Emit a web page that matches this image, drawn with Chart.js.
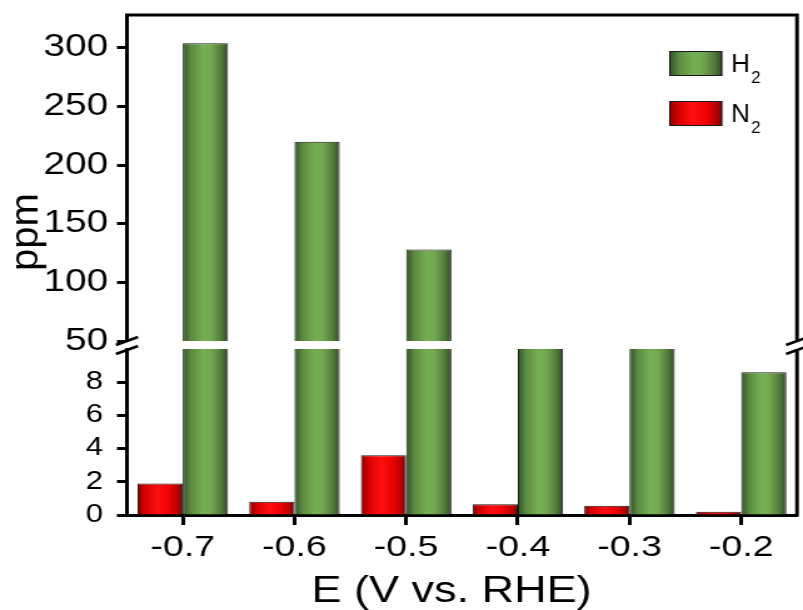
<!DOCTYPE html>
<html>
<head>
<meta charset="utf-8">
<script src="https://cdn.jsdelivr.net/npm/chart.js@4.4.1/dist/chart.umd.min.js"></script>
<style>
  html, body { margin: 0; padding: 0; background: #fff; overflow: hidden; }
  /* the figure uses wide lettering: the chart is drawn narrower and widened */
  #wrap { width: 642px; height: 610px; transform: scaleX(1.2508); transform-origin: 0 0; }
</style>
</head>
<body>
<div id="wrap"><canvas id="c"></canvas></div>
<script>
// Applied potential (V vs. RHE) and measured gas concentrations (ppm)
const potentials = ['-0.7', '-0.6', '-0.5', '-0.4', '-0.3', '-0.2'];
const n2Ppm = [1.9, 0.8, 3.6, 0.65, 0.55, 0.2];
const h2Ppm = [304, 220, 128, 10, 10, 8.6];
const seriesLabels = ['N2', 'H2'];

// Broken y axis: lower panel 0-10, upper panel 50-328
const lowerTicks = [0, 2, 4, 6, 8];
const upperTicks = [50, 100, 150, 200, 250, 300];
const LOWER_MAX = 10;
const UPPER_MIN = 50;
const UPPER_MAX = 328;

const xTitle = 'E (V vs. RHE)';
const yTitle = 'ppm';

const STRETCH = 803 / 642;
const FONT = '"Liberation Sans", Arial, Helvetica, sans-serif';
const CAT_PCT = 0.81;

const palettes = {
  N2: [[0, '#8a0000'], [0.18, '#d80000'], [0.45, '#ff1010'], [0.7, '#f00000'], [0.9, '#b00000'], [1, '#7a0000']],
  H2: [[0, '#34502a'], [0.18, '#5c8a42'], [0.45, '#75ae53'], [0.62, '#72aa50'], [0.85, '#527a3a'], [1, '#2f4825']]
};

function makeGradient(ctx, x0, x1, stops) {
  const g = ctx.createLinearGradient(x0, 0, x1, 0);
  stops.forEach(([o, c]) => g.addColorStop(o, c));
  return g;
}

// Horizontal shading across each bar, positioned from the category scale
function barFill(context) {
  const chart = context.chart;
  const ds = chart.data.datasets[context.datasetIndex];
  const stops = palettes[ds.stack];
  const xs = chart.scales.x;
  if (!xs || context.dataIndex === undefined || !isFinite(xs.left)) return stops[2][1];
  const catW = (xs.right - xs.left) / potentials.length;
  const chunk = catW * CAT_PCT / seriesLabels.length;
  const center = xs.getPixelForValue(context.dataIndex);
  const slot = seriesLabels.indexOf(ds.stack);
  const x0 = center - chunk * seriesLabels.length / 2 + chunk * slot;
  return makeGradient(chart.ctx, x0, x0 + chunk, stops);
}

function lowerPart(values) { return values.map(v => Math.min(v, LOWER_MAX)); }
function upperPart(values) { return values.map(v => (v >= UPPER_MIN ? v : null)); }

function lowerBorder(context) {
  const ds = context.chart.data.datasets[context.datasetIndex];
  const full = ds.stack === 'N2' ? n2Ppm : h2Ppm;
  const v = full[context.dataIndex];
  return v >= LOWER_MAX ? { left: 1, right: 1, top: 0, bottom: 0 } : { left: 1, right: 1, top: 1, bottom: 0 };
}

const datasets = [
  { label: 'N2', stack: 'N2', yAxisID: 'yLow', data: lowerPart(n2Ppm), borderWidth: lowerBorder },
  { label: 'N2', stack: 'N2', yAxisID: 'yHigh', data: upperPart(n2Ppm), borderWidth: { left: 1, right: 1, top: 1, bottom: 0 } },
  { label: 'H2', stack: 'H2', yAxisID: 'yLow', data: lowerPart(h2Ppm), borderWidth: lowerBorder },
  { label: 'H2', stack: 'H2', yAxisID: 'yHigh', data: upperPart(h2Ppm), borderWidth: { left: 1, right: 1, top: 1, bottom: 0 } }
].map(d => Object.assign(d, {
  backgroundColor: barFill,
  borderColor: '#1a1a1a',
  borderSkipped: false,
  barPercentage: 1,
  categoryPercentage: CAT_PCT
}));

const AXIS_W = 101.5;

function noPadding(s) {
  s.paddingTop = 0;
  s.paddingBottom = 0;
  s.paddingLeft = 0;
  s.paddingRight = 0;
}

function yScale(extra) {
  return Object.assign({
    type: 'linear',
    position: 'left',
    stack: 'ppm',
    stacked: false,
    grid: { drawOnChartArea: false, drawTicks: true, tickLength: 8, tickWidth: 3, tickColor: '#000' },
    border: { display: true, width: 3, color: '#000' },
    afterFit: s => { s.width = AXIS_W; noPadding(s); }
  }, extra);
}

// Text drawn at its natural width inside the widened canvas
function narrowText(ctx, text, x, y) {
  ctx.save();
  ctx.translate(x, y);
  ctx.scale(1 / STRETCH, 1);
  ctx.fillText(text, 0, 0);
  const w = ctx.measureText(text).width / STRETCH;
  ctx.restore();
  return w;
}

// Frame, axis-break marks, axis titles and legend
const decorations = {
  id: 'decorations',
  afterDraw(chart) {
    const { ctx, chartArea: a, scales } = chart;
    const hi = scales.yHigh, lo = scales.yLow;
    ctx.save();
    ctx.strokeStyle = '#000';
    ctx.lineWidth = 3;
    ctx.beginPath();
    ctx.moveTo(a.left - 1.5, a.top);
    ctx.lineTo(a.right + 1.5, a.top);
    ctx.moveTo(a.right, a.top);
    ctx.lineTo(a.right, hi.bottom);
    ctx.moveTo(a.right, lo.top);
    ctx.lineTo(a.right, a.bottom + 1.5);
    ctx.stroke();

    ctx.lineWidth = 2.5;
    ctx.beginPath();
    for (const xc of [a.left, a.right]) {
      for (const yc of [hi.bottom, lo.top + 1]) {
        ctx.moveTo(xc - 8.8, yc + 4);
        ctx.lineTo(xc + 8.8, yc - 4);
      }
    }
    ctx.stroke();

    ctx.fillStyle = '#000';
    ctx.textAlign = 'center';
    ctx.textBaseline = 'alphabetic';
    ctx.font = '36px ' + FONT;
    ctx.fillText(xTitle, 361, 602);

    ctx.save();
    ctx.translate(21.6, 232);
    ctx.scale(1 / STRETCH, 1);
    ctx.rotate(-Math.PI / 2);
    ctx.textBaseline = 'middle';
    ctx.font = '40px ' + FONT;
    ctx.fillText(yTitle, 0, 0);
    ctx.restore();

    // legend: H2 above N2
    const order = ['H2', 'N2'];
    order.forEach((name, i) => {
      const x = 535, y = 51 + i * 50, w = 42.4, h = 25;
      ctx.fillStyle = makeGradient(ctx, x, x + w, palettes[name]);
      ctx.fillRect(x, y, w, h);
      ctx.lineWidth = 1;
      ctx.strokeStyle = '#1a1a1a';
      ctx.strokeRect(x + 0.5, y + 0.5, w - 1, h - 1);
      const m = name.match(/^([A-Za-z]+)(\d*)$/);
      ctx.fillStyle = '#000';
      ctx.textAlign = 'left';
      ctx.textBaseline = 'alphabetic';
      ctx.font = '26px ' + FONT;
      const w1 = narrowText(ctx, m[1], 584.5, y + 21);
      ctx.font = '17px ' + FONT;
      narrowText(ctx, m[2], 584.5 + w1 + 1, y + 32);
    });
    ctx.restore();
  }
};

new Chart(document.getElementById('c'), {
  type: 'bar',
  data: { labels: potentials, datasets },
  options: {
    responsive: true,
    maintainAspectRatio: false,
    animation: false,
    layout: { padding: { top: 15, right: 4.8, left: 0, bottom: 0 } },
    plugins: { legend: { display: false }, tooltip: { enabled: false } },
    scales: {
      x: {
        type: 'category',
        stacked: true,
        offset: true,
        grid: { offset: false, drawOnChartArea: false, drawTicks: true, tickLength: 10, tickWidth: 3, tickColor: '#000' },
        border: { display: true, width: 3, color: '#000' },
        ticks: { color: '#000', font: { family: FONT, size: 30 }, padding: 5, maxRotation: 0, autoSkip: false },
        afterFit: s => { s.height = 95; noPadding(s); }
      },
      yLow: yScale({
        stackWeight: 166,
        min: 0,
        max: LOWER_MAX,
        ticks: { color: '#000', font: { family: FONT, size: 25 }, padding: 11, autoSkip: false },
        afterBuildTicks: s => { s.ticks = lowerTicks.map(v => ({ value: v })); }
      }),
      yGap: yScale({
        stackWeight: 8,
        min: 0,
        max: 1,
        grid: { display: false, drawOnChartArea: false },
        border: { display: false },
        ticks: { display: false }
      }),
      yHigh: yScale({
        stackWeight: 326,
        min: UPPER_MIN,
        max: UPPER_MAX,
        ticks: { color: '#000', font: { family: FONT, size: 31 }, padding: 7, autoSkip: false },
        afterBuildTicks: s => { s.ticks = upperTicks.map(v => ({ value: v })); }
      })
    }
  },
  plugins: [decorations]
});
</script>
</body>
</html>
